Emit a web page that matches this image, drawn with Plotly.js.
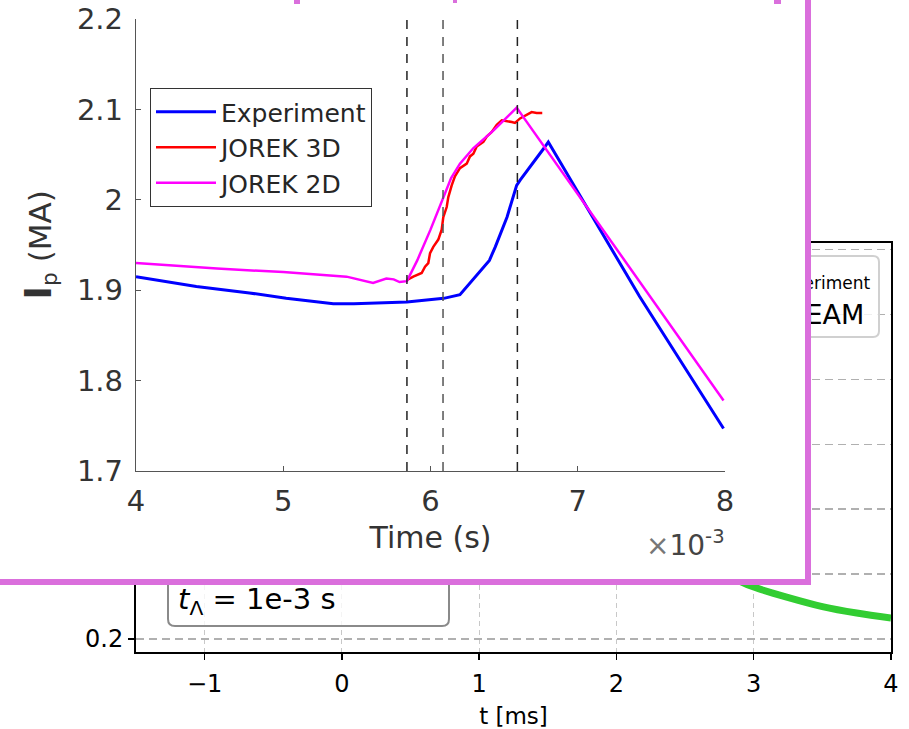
<!DOCTYPE html>
<html><head><meta charset="utf-8">
<script src="https://cdn.plot.ly/plotly-3.0.1.min.js"></script>
<style>
html,body{margin:0;padding:0;background:#fff;}
#wrap{position:relative;width:909px;height:729px;overflow:hidden;}
#main{position:absolute;left:0;top:0;width:909px;height:729px;}
#inset{position:absolute;left:0;top:0;width:811px;height:585px;}
</style></head><body>
<div id="wrap"><div id="main"></div><div id="inset"></div></div>
<script>
// ---------- background chart (partly hidden) ----------
const mainT     = [-1.5, -1.0, -0.5, 0.0, 0.5, 1.0, 1.5, 2.0, 2.5, 2.9, 3.0, 3.25, 3.5, 3.75, 4.0];
const mainDream = [1.30, 1.30, 1.29, 1.27, 1.20, 1.05, 0.85, 0.64, 0.47, 0.378, 0.360, 0.328, 0.300, 0.280, 0.265];
const mainXTicks = [-1, 0, 1, 2, 3, 4];
const mainYTicks = [0.2, 0.4, 0.6, 0.8, 1.0, 1.2, 1.4];
const mainYTickText = ['0.2', '', '', '', '', '', ''];   // only 0.2 is visible, the rest is under the inset
const mainLegendLabels = ['Experiment', 'DREAM'];
const mainNote = '<i>t</i><sub>Λ</sub> = 1e-3 s';

// ---------- inset chart ----------
const expT  = [4.00, 4.41, 4.77, 5.02, 5.34, 5.48, 5.84, 6.09, 6.20, 6.40, 6.44, 6.52, 6.585, 6.61, 6.77, 6.80, 7.42, 7.99];
const expIp = [1.915, 1.904, 1.897, 1.891, 1.885, 1.885, 1.887, 1.891, 1.895, 1.933, 1.948, 1.981, 2.016, 2.022, 2.057, 2.064, 1.893, 1.747];

const j3dT  = [5.838, 5.883, 5.940, 5.963, 5.985, 5.997, 6.019, 6.053, 6.076, 6.087, 6.110, 6.121, 6.144, 6.166, 6.200, 6.246, 6.268, 6.291, 6.314, 6.359, 6.382, 6.416, 6.450, 6.484, 6.552, 6.574, 6.608, 6.653, 6.687, 6.721, 6.759];
const j3dIp = [1.911, 1.915, 1.919, 1.926, 1.930, 1.941, 1.948, 1.956, 1.967, 1.981, 1.992, 2.003, 2.016, 2.026, 2.035, 2.040, 2.048, 2.051, 2.059, 2.064, 2.070, 2.075, 2.083, 2.088, 2.086, 2.085, 2.090, 2.094, 2.097, 2.096, 2.096];

const j2dT  = [4.00, 4.55, 5.00, 5.43, 5.61, 5.70, 5.75, 5.79, 5.84, 5.91, 6.00, 6.10, 6.14, 6.20, 6.29, 6.43, 6.585, 7.99];
const j2dIp = [1.930, 1.924, 1.920, 1.915, 1.908, 1.913, 1.912, 1.909, 1.910, 1.933, 1.967, 2.007, 2.024, 2.040, 2.057, 2.077, 2.102, 1.778];

const eventTimes = [5.84, 6.085, 6.59];
const insetXTicks = [4, 5, 6, 7, 8];
const insetYTicks = [1.7, 1.8, 1.9, 2.0, 2.1, 2.2];
const seriesNames = ['Experiment', 'JOREK 3D', 'JOREK 2D'];
const seriesColors = ['#0000ff', '#ff0000', '#ff00ff'];

// ---------- main chart ----------
const W = 909, H = 729, mL = 136, mR = 18, mT = 243, mB = 77;
const pw = W - mL - mR, ph = H - mT - mB;
const mpx = px => (px - mL) / pw;
const mpy = py => 1 - (py - mT) / ph;
function rr(x0, y0, x1, y1, r, fx, fy) {
  const P = (x, y) => fx(x) + ',' + fy(y);
  return 'M' + P(x0 + r, y0) + ' L' + P(x1 - r, y0) + ' Q' + P(x1, y0) + ' ' + P(x1, y0 + r) +
    ' L' + P(x1, y1 - r) + ' Q' + P(x1, y1) + ' ' + P(x1 - r, y1) +
    ' L' + P(x0 + r, y1) + ' Q' + P(x0, y1) + ' ' + P(x0, y1 - r) +
    ' L' + P(x0, y0 + r) + ' Q' + P(x0, y0) + ' ' + P(x0 + r, y0) + ' Z';
}
const mfont = 'DejaVu Sans';
Plotly.newPlot('main', [{
  x: mainT, y: mainDream, type: 'scatter', mode: 'lines', name: mainLegendLabels[1],
  line: {color: '#32cd32', width: 7, shape: 'spline', smoothing: 1}, showlegend: false
}], {
  width: W, height: H, margin: {l: mL, r: mR, t: mT, b: mB},
  paper_bgcolor: '#fff', plot_bgcolor: '#fff', showlegend: false,
  font: {family: mfont, color: '#000'},
  xaxis: {range: [-1.5, 4], tickvals: mainXTicks, ticks: 'outside', ticklen: 6, tickwidth: 1.5, tickcolor: '#000',
    showline: true, linecolor: '#000', linewidth: 2, mirror: true, zeroline: false,
    showgrid: true, gridcolor: '#c8c8c8', griddash: '5px,4px', gridwidth: 1,
    tickfont: {size: 24, family: mfont, color: '#000'}, ticklabelstandoff: 3,
    title: {text: 't [ms]', font: {size: 23, family: mfont, color: '#000'}, standoff: 11}},
  yaxis: {range: [0.16, 1.42], tickvals: mainYTicks, ticktext: mainYTickText, ticks: 'outside', ticklen: 6, tickwidth: 1.5, tickcolor: '#000',
    showline: true, linecolor: '#000', linewidth: 2, mirror: true, zeroline: false,
    showgrid: true, gridcolor: '#b0b0b0', griddash: '8px,5px', gridwidth: 1.5,
    tickfont: {size: 24, family: mfont, color: '#000'}},
  shapes: [
    {type: 'path', xref: 'paper', yref: 'paper', path: rr(770, 256, 879, 337, 6, mpx, mpy),
      line: {color: '#d0d0d0', width: 2}, fillcolor: 'rgba(255,255,255,0.8)', layer: 'above'},
    {type: 'path', xref: 'paper', yref: 'paper', path: rr(168, 540, 449, 626, 7, mpx, mpy),
      line: {color: '#8a8a8a', width: 2}, fillcolor: 'rgba(255,255,255,0.8)', layer: 'above'}
  ],
  annotations: [
    {xref: 'paper', yref: 'paper', x: mpx(873), y: mpy(283), xanchor: 'right', yanchor: 'middle', showarrow: false,
      text: mainLegendLabels[0], font: {size: 17, family: mfont, color: '#000'}},
    {xref: 'paper', yref: 'paper', x: mpx(866), y: mpy(314), xanchor: 'right', yanchor: 'middle', showarrow: false,
      text: mainLegendLabels[1], font: {size: 27, family: mfont, color: '#000'}},
    {xref: 'paper', yref: 'paper', x: mpx(176), y: mpy(601), xanchor: 'left', yanchor: 'middle', showarrow: false,
      text: mainNote, font: {size: 29, family: mfont, color: '#000'}}
  ]
}, {staticPlot: true});

// ---------- inset ----------
const IW = 811, IH = 585, iL = 136, iR = IW - 725, iT = 19, iB = IH - 471;
const ipw = IW - iL - iR, iph = IH - iT - iB;
const ipx = px => (px - iL) / ipw;
const ipy = py => 1 - (py - iT) / iph;
const ifont = 'DejaVu Sans';
const orchid = '#da6fdc';
const evShapes = eventTimes.map((t, i) => ({
  type: 'line', xref: 'x', yref: 'paper', x0: t, x1: t, y0: 0, y1: 1,
  line: {color: i === 1 ? '#555' : '#222', width: 1.5, dash: '9px,8px'}
}));
const insetTraces = [
  {x: expT, y: expIp, name: seriesNames[0], line: {color: seriesColors[0], width: 3}},
  {x: j3dT, y: j3dIp, name: seriesNames[1], line: {color: seriesColors[1], width: 2.5}},
  {x: j2dT, y: j2dIp, name: seriesNames[2], line: {color: seriesColors[2], width: 2.5}}
].map(t => Object.assign({type: 'scatter', mode: 'lines'}, t));
Plotly.newPlot('inset', insetTraces, {
  width: IW, height: IH, margin: {l: iL, r: iR, t: iT, b: iB},
  paper_bgcolor: '#fff', plot_bgcolor: '#fff',
  font: {family: ifont, color: '#333'},
  showlegend: true,
  legend: {x: ipx(150), y: ipy(88), xanchor: 'left', yanchor: 'top', bgcolor: '#fff',
    bordercolor: '#333', borderwidth: 1, font: {size: 25, family: ifont, color: '#262626'},
    itemwidth: 60, tracegroupgap: 0},
  xaxis: {range: [4, 8], tickvals: insetXTicks, ticks: 'inside', ticklen: 5, tickcolor: '#555', tickwidth: 1,
    showline: true, linecolor: '#555', linewidth: 1.2, showgrid: false, zeroline: false,
    tickfont: {size: 29, family: ifont, color: '#333'}, ticklabelstandoff: 4,
    title: {text: 'Time (s)', font: {size: 30, family: ifont, color: '#333'}, standoff: 10}},
  yaxis: {range: [1.7, 2.2], tickvals: insetYTicks, ticks: 'inside', ticklen: 5, tickcolor: '#555', tickwidth: 1,
    showline: true, linecolor: '#555', linewidth: 1.2, showgrid: false, zeroline: false,
    tickfont: {size: 29, family: ifont, color: '#333'}, ticklabelstandoff: 6,
    title: {text: '<span style="font-size:37px"><b>I</b></span><sub>p</sub> (MA)', font: {size: 31, family: ifont, color: '#333'}, standoff: 16}},
  shapes: evShapes.concat([
    {type: 'rect', xref: 'paper', yref: 'paper', x0: ipx(-10), y0: ipy(-10), x1: ipx(808), y1: ipy(582),
      line: {color: orchid, width: 6}, fillcolor: 'rgba(0,0,0,0)'},
    {type: 'rect', xref: 'paper', yref: 'paper', x0: ipx(294), y0: ipy(0), x1: ipx(300), y1: ipy(4),
      line: {width: 0}, fillcolor: orchid},
    {type: 'rect', xref: 'paper', yref: 'paper', x0: ipx(453), y0: ipy(0), x1: ipx(457), y1: ipy(3),
      line: {width: 0}, fillcolor: orchid},
    {type: 'rect', xref: 'paper', yref: 'paper', x0: ipx(774), y0: ipy(0), x1: ipx(781), y1: ipy(4),
      line: {width: 0}, fillcolor: orchid}
  ]),
  annotations: [
    {xref: 'paper', yref: 'paper', x: ipx(727), y: ipy(543), xanchor: 'right', yanchor: 'middle', showarrow: false,
      text: '<span style="color:#777">×</span>10<sup>-3</sup>', font: {size: 28, family: ifont, color: '#444'}}
  ]
}, {staticPlot: true});
</script>
</body></html>
